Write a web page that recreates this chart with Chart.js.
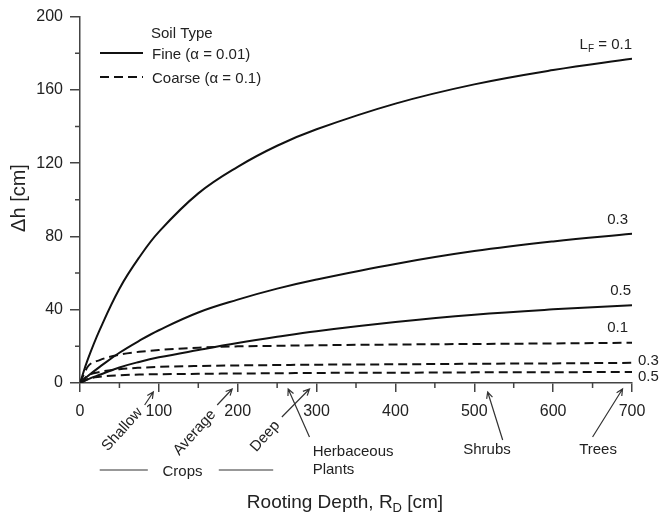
<!DOCTYPE html>
<html>
<head>
<meta charset="utf-8">
<script src="https://cdn.jsdelivr.net/npm/chart.js@4.4.1/dist/chart.umd.min.js"></script>
<style>
  body { margin: 0; background: #fff; }
  #wrap { width: 660px; height: 519px; }
</style>
</head>
<body>
<div id="wrap"><canvas id="chart" width="660" height="519"></canvas></div>
<script>
// rooting depth (cm) where the curves were read
const rootDepth = [0, 10, 25, 50, 75, 100, 150, 200, 250, 300, 400, 500, 600, 700];

// fine soil (alpha = 0.01), solid lines
const fine01 = [0, 13, 29, 51.5, 68.5, 82.5, 103.5, 118, 129.5, 138.5, 152.5, 163, 170.8, 177];
const fine03 = [0, 3.8, 8.8, 16.5, 23, 28.8, 38.5, 45.5, 51.5, 56.5, 65, 72, 77.3, 81.5];
const fine05 = [0, 2, 4.5, 8.5, 11.5, 14, 18, 21.8, 25.2, 28.3, 33.3, 37.3, 40.2, 42.5];

// coarse soil (alpha = 0.1), dashed lines
const coarse01 = [0, 9, 12.5, 15.5, 17, 18, 19.3, 20, 20.3, 20.6, 21, 21.3, 21.6, 22];
const coarse03 = [0, 4, 6, 7.5, 8.3, 8.8, 9.3, 9.6, 9.8, 10, 10.2, 10.5, 10.7, 11];
const coarse05 = [0, 2.2, 3.4, 4.2, 4.6, 4.8, 5, 5.2, 5.3, 5.5, 5.6, 5.8, 5.9, 6];

const xTicks = [0, 100, 200, 300, 400, 500, 600, 700];
const yTicks = [0, 40, 80, 120, 160, 200];
const xMinor = [50, 150, 250, 350, 450, 550, 650];
const yMinor = [20, 60, 100, 140, 180];

const FONT = '"Liberation Sans", Arial, sans-serif';
const TXT = '#222';
const AX = '#444';

function pts(vals) {
  return rootDepth.map((r, i) => ({ x: r, y: vals[i] }));
}

function series(vals, dashed) {
  return {
    data: pts(vals),
    borderColor: '#111',
    borderWidth: 2,
    borderDash: dashed ? [9, 5] : [],
    pointRadius: 0,
    fill: false,
    // fine curves bend gently, coarse ones have a sharp knee near the origin
    cubicInterpolationMode: dashed ? 'monotone' : 'default',
    tension: 0.4
  };
}

// labels at the right end of each curve
const endLabels = [
  { vals: fine01, text: 'LF', dx: 0, dy: -14, align: 'right' },
  { vals: fine03, text: '0.3', dx: -4, dy: -14, align: 'right' },
  { vals: fine05, text: '0.5', dx: -1, dy: -14, align: 'right' },
  { vals: coarse01, text: '0.1', dx: -4, dy: -15, align: 'right' },
  { vals: coarse03, text: '0.3', dx: 6, dy: -2, align: 'left' },
  { vals: coarse05, text: '0.5', dx: 6, dy: 5, align: 'left' }
];

// plant annotations below the axis: arrow tip / tail as [depth, px below axis]
const arrows = [
  { tip: [93, 9], tail: [82, 22] },
  { tip: [193, 6], tail: [174, 22] },
  { tip: [291, 6], tail: [256, 34] },
  { tip: [264, 6], tail: [291, 54] },
  { tip: [517, 9], tail: [536, 57] },
  { tip: [688, 6], tail: [650, 54] }
];
const slanted = [
  { text: 'Shallow', at: [76, 27] },
  { text: 'Average', at: [169, 29] },
  { text: 'Deep', at: [250, 40] }
];
const flat = [
  { text: 'Herbaceous', at: [295, 69], align: 'left' },
  { text: 'Plants', at: [295, 87], align: 'left' },
  { text: 'Shrubs', at: [486, 67], align: 'left' },
  { text: 'Trees', at: [633, 67], align: 'left' },
  { text: 'Crops', at: [130, 89], align: 'center' }
];
const cropLines = [[25, 86], [176, 245]];

function arrow(ctx, x0, y0, x1, y1) {
  const a = Math.atan2(y1 - y0, x1 - x0);
  const h = 7;
  ctx.beginPath();
  ctx.moveTo(x0, y0);
  ctx.lineTo(x1, y1);
  ctx.moveTo(x1 - h * Math.cos(a - 0.45), y1 - h * Math.sin(a - 0.45));
  ctx.lineTo(x1, y1);
  ctx.lineTo(x1 - h * Math.cos(a + 0.45), y1 - h * Math.sin(a + 0.45));
  ctx.stroke();
}

const extras = {
  id: 'extras',
  afterDraw(chart) {
    const ctx = chart.ctx;
    const xs = chart.scales.x, ys = chart.scales.y;
    const ca = chart.chartArea;
    ctx.save();

    // minor ticks
    ctx.strokeStyle = AX;
    ctx.lineWidth = 1.5;
    ctx.beginPath();
    yMinor.forEach(v => {
      const p = ys.getPixelForValue(v);
      ctx.moveTo(ca.left - 5, p); ctx.lineTo(ca.left, p);
    });
    xMinor.forEach(v => {
      const p = xs.getPixelForValue(v);
      ctx.moveTo(p, ca.bottom); ctx.lineTo(p, ca.bottom + 5);
    });
    ctx.stroke();

    // legend
    ctx.fillStyle = TXT;
    ctx.font = '15px ' + FONT;
    ctx.textBaseline = 'middle';
    ctx.textAlign = 'left';
    ctx.fillText('Soil Type', 151, 34);
    ctx.fillText('Fine (\u03b1 = 0.01)', 152, 55);
    ctx.fillText('Coarse (\u03b1 = 0.1)', 152, 79);
    ctx.strokeStyle = '#111';
    ctx.lineWidth = 2;
    ctx.beginPath(); ctx.moveTo(100, 53); ctx.lineTo(143, 53); ctx.stroke();
    ctx.setLineDash([9, 5]);
    ctx.beginPath(); ctx.moveTo(100, 77); ctx.lineTo(143, 77); ctx.stroke();
    ctx.setLineDash([]);

    // curve end labels
    const lastX = xs.getPixelForValue(rootDepth[rootDepth.length - 1]);
    endLabels.forEach(l => {
      const y = ys.getPixelForValue(l.vals[l.vals.length - 1]) + l.dy;
      const x = lastX + l.dx;
      if (l.text === 'LF') {
        ctx.textAlign = 'left';
        ctx.font = '15px ' + FONT;
        const tail = ' = 0.1';
        const wL = ctx.measureText('L').width;
        const wT = ctx.measureText(tail).width;
        ctx.font = '10px ' + FONT;
        const wF = ctx.measureText('F').width;
        const x0 = x - wL - wF - wT;
        ctx.font = '15px ' + FONT;
        ctx.fillText('L', x0, y);
        ctx.fillText(tail, x0 + wL + wF, y);
        ctx.font = '10px ' + FONT;
        ctx.fillText('F', x0 + wL, y + 5);
      } else {
        ctx.font = '15px ' + FONT;
        ctx.textAlign = l.align;
        ctx.fillText(l.text, x, y);
      }
    });

    // plant annotations
    ctx.strokeStyle = '#333';
    ctx.lineWidth = 1.2;
    arrows.forEach(a => {
      arrow(ctx, xs.getPixelForValue(a.tail[0]), ca.bottom + a.tail[1],
                 xs.getPixelForValue(a.tip[0]), ca.bottom + a.tip[1]);
    });
    cropLines.forEach(c => {
      ctx.beginPath();
      ctx.moveTo(xs.getPixelForValue(c[0]), ca.bottom + 87);
      ctx.lineTo(xs.getPixelForValue(c[1]), ca.bottom + 87);
      ctx.stroke();
    });
    ctx.font = '15px ' + FONT;
    ctx.fillStyle = TXT;
    slanted.forEach(s => {
      ctx.save();
      ctx.translate(xs.getPixelForValue(s.at[0]), ca.bottom + s.at[1]);
      ctx.rotate(-48 * Math.PI / 180);
      ctx.textAlign = 'right';
      ctx.fillText(s.text, 0, 0);
      ctx.restore();
    });
    flat.forEach(f => {
      ctx.textAlign = f.align;
      ctx.fillText(f.text, xs.getPixelForValue(f.at[0]), ca.bottom + f.at[1]);
    });

    // axis titles
    ctx.font = '19px ' + FONT;
    const t1 = 'Rooting Depth, R', t2 = ' [cm]';
    const w1 = ctx.measureText(t1).width, w2 = ctx.measureText(t2).width;
    ctx.font = '13px ' + FONT;
    const wD = ctx.measureText('D').width;
    let x0 = 345 - (w1 + wD + w2) / 2;
    const ty = 503;
    ctx.textAlign = 'left';
    ctx.font = '19px ' + FONT;
    ctx.fillText(t1, x0, ty);
    ctx.fillText(t2, x0 + w1 + wD, ty);
    ctx.font = '13px ' + FONT;
    ctx.fillText('D', x0 + w1, ty + 5);

    ctx.save();
    ctx.translate(19, 198);
    ctx.rotate(-Math.PI / 2);
    ctx.textAlign = 'center';
    ctx.font = '20px ' + FONT;
    ctx.fillText('\u0394h [cm]', 0, 0);
    ctx.restore();

    ctx.restore();
  }
};

new Chart(document.getElementById('chart'), {
  type: 'line',
  data: {
    datasets: [
      series(fine01, false), series(fine03, false), series(fine05, false),
      series(coarse01, true), series(coarse03, true), series(coarse05, true)
    ]
  },
  options: {
    responsive: false,
    animation: false,
    devicePixelRatio: 1,
    layout: { padding: { top: 16, right: 28, left: 0, bottom: 0 } },
    plugins: { legend: { display: false }, tooltip: { enabled: false } },
    scales: {
      x: {
        type: 'linear', min: 0, max: 700,
        afterBuildTicks: s => { s.ticks = xTicks.map(v => ({ value: v })); },
        ticks: { font: { family: FONT, size: 16 }, color: TXT, padding: 10, maxRotation: 0 },
        grid: { drawOnChartArea: false, tickLength: 9, color: AX, lineWidth: 1.5 },
        border: { color: AX, width: 1.5 },
        afterFit: s => { s.height = 136; }
      },
      y: {
        type: 'linear', min: 0, max: 200,
        afterBuildTicks: s => { s.ticks = yTicks.map(v => ({ value: v })); },
        ticks: { font: { family: FONT, size: 16 }, color: TXT, padding: 7 },
        grid: { drawOnChartArea: false, tickLength: 10, color: AX, lineWidth: 1.5 },
        border: { color: AX, width: 1.5 },
        afterFit: s => { s.width = 80; }
      }
    }
  },
  plugins: [extras]
});
</script>
</body>
</html>
